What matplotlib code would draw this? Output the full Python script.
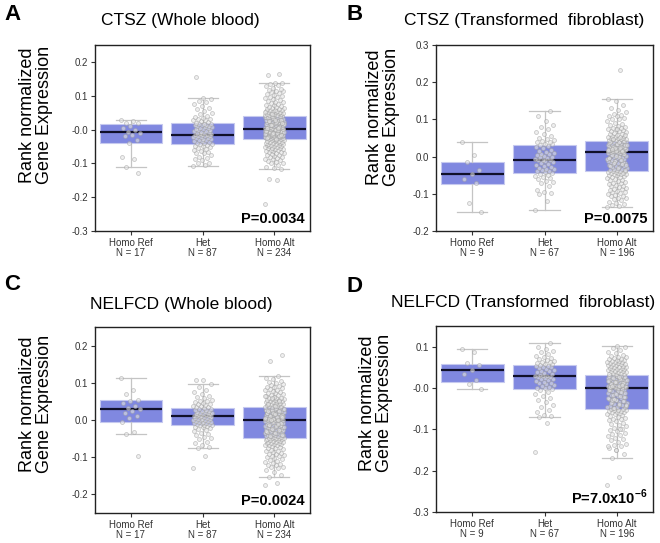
import numpy as np
import matplotlib.pyplot as plt

plt.rcParams['font.family'] = ['Liberation Sans', 'DejaVu Sans']
plt.rcParams['mathtext.fontset'] = 'custom'
plt.rcParams['mathtext.rm'] = 'Liberation Sans'
plt.rcParams['mathtext.bf'] = 'Liberation Sans:bold'

groups = ['Homo Ref', 'Het', 'Homo Alt']

# point values are in units of 0.001

# A - CTSZ whole blood
a_n = [17, 87, 234]
a_ref = [27, 25, 20, 18, 10, 5, -2, -7, -10, -15, -20, -30, -40, -82, -87, -112, -128]
a_het = [-107, -105, -100, -98, -90, -88, -85, -80, -75, -70, -68, -65, -62, -60, -58, -55, -52, -50, -48, -46, -44,
         -42, -40, -39, -37, -35, -34, -32, -30, -29, -27, -26, -24, -23, -21, -20, -19, -18, -17, -16, -15, -13, -12,
         -11, -10, -8, -7, -5, -4, -2, 0, 1, 3, 4, 6, 7, 9, 10, 11, 12, 13, 14, 15, 16, 17,
         20, 22, 25, 27, 28, 30, 32, 35, 38, 40, 45, 50, 55, 60, 65, 70, 75, 80, 85, 90, 94, 155]
a_alt = [-220, -148, -145, -117, -115, -110, -105, -100, -98, -95, -93, -90, -88, -86, -84, -82, -80, -78, -76, -74,
         -72, -70, -68, -67, -65, -64, -62, -61, -60, -58, -57, -56, -55, -54, -52, -51, -50, -49, -48, -47, -46, -45,
         -44, -43, -42, -41, -40, -39, -38, -37, -36, -35, -34, -33, -32, -31, -30, -29,
         -28, -27, -26, -26, -25, -24, -24, -23, -22, -21, -21, -20, -19, -18, -18, -17, -16, -15, -15, -14, -13, -12,
         -12, -11, -10, -9, -9, -8, -7, -6, -6, -5, -4, -3, -3, -2, -1, 0, 0, 1, -27, -23, -19, -16, -13, -10, -7, -4,
         -1, -25, -20, -14, -8, -2, 1, -17, -11, -5, 0,
         2, 3, 3, 4, 5, 6, 6, 7, 8, 9, 10, 10, 11, 12, 13, 14, 14, 15, 16, 17, 18, 18, 19, 20, 21, 22, 22, 23, 24, 25,
         26, 27, 28, 29, 30, 31, 32, 33, 34, 35, 36, 37, 38, 39, 39, 5, 9, 13, 17, 21, 25, 29, 33, 37, 4, 12, 20, 28, 36,
         40, 41, 42, 43, 44, 45, 46, 47, 48, 49, 50, 51, 52, 53, 54, 55, 56, 57, 58, 59, 60, 62, 63, 65, 66, 68, 70, 72,
         74, 75, 78, 80, 82, 85, 87, 90, 92, 95, 97, 100, 103, 105, 108, 110, 113, 115, 118, 120, 124, 128, 132, 136,
         138, 138, 160, 165, 45, 52]
a_med = [-0.007, -0.017, 0.002]
a_q1 = [-0.040, -0.043, -0.028]
a_q3 = [0.015, 0.018, 0.040]
a_lo = [-0.112, -0.107, -0.117]
a_hi = [0.027, 0.094, 0.138]

# B - CTSZ transformed fibroblast
b_n = [9, 67, 196]
b_ref = [40, 5, -15, -35, -48, -60, -72, -125, -148]
b_het = [-143, -120, -100, -97, -95, -90, -80, -72, -68, -65, -60, -57, -55, -52, -50, -47, -45,
         -42, -40, -38, -36, -34, -32, -30, -28, -25, -22, -20, -18, -15, -12, -10, -9, -8, -6, -4, -2, 0, 2, 4, 6, 8,
         10, 13, 16, 19, 22, 25, 28, 31,
         33, 35, 38, 40, 43, 45, 48, 50, 55, 60, 65, 75, 80, 84, 95, 110, 122]
b_alt = [-135, -132, -130, -128, -125, -122, -118, -115, -112, -110, -107, -105, -102, -100, -98, -96, -94, -92, -90,
         -88, -86, -84, -82, -80, -78, -76, -74, -72, -70, -68, -66, -64, -62, -60, -58, -56, -54, -52, -50, -49, -48,
         -47, -46, -45, -44, -43, -42, -41, -40,
         -39, -38, -36, -35, -33, -32, -30, -29, -27, -26, -24, -23, -21, -20, -18, -17, -15, -14, -12, -11, -9, -8,
         -6, -5, -3, -2, 0, 1, 3, 4, 6, 7, 9, 10, 11, -37, -31, -25, -19, -13, -7, -1, 5, 8, 2, -4, -10, -16, -22,
         12, 13, 13, 14, 15, 15, 16, 17, 17, 18, 19, 20, 20, 21, 22, 23, 23, 24, 25, 26, 27, 28, 28, 29, 30, 31, 32,
         33, 34, 35, 36, 37, 38, 39, 40, 41, 42, 14, 18, 22, 26, 30, 34, 38, 16, 24, 32, 40, 20,
         43, 44, 45, 46, 47, 48, 49, 50, 51, 52, 53, 54, 55, 56, 58, 60, 62, 64, 66, 68, 70, 72, 74, 75, 76, 78, 80, 82,
         85, 88, 90, 95, 100, 102, 105, 108, 110, 112, 115, 120, 125, 130, 140, 150, 156, 232, 47, 57, 73]
b_med = [-0.046, -0.008, 0.012]
b_q1 = [-0.073, -0.043, -0.040]
b_q3 = [-0.015, 0.032, 0.043]
b_lo = [-0.148, -0.143, -0.135]
b_hi = [0.040, 0.122, 0.156]

# C - NELFCD whole blood
c_n = [17, 87, 234]
c_ref = [112, 80, 70, 55, 50, 45, 38, 32, 30, 25, 20, 10, 5, -5, -33, -37, -97]
c_het = [-128, -97, -75, -72, -68, -62, -58, -52, -48, -45, -40, -37, -34, -30, -27, -25, -22, -20, -18, -16, -14,
         -13, -12, -11, -10, -9, -8, -7, -6, -5, -4, -3, -2, -1, 0, 1, 2, 3, 4, 5, 6, 7, 8, 9, 10, 10, 11, 12, 13, 14,
         15, 16, 17, 18, 19, 20, 21, 22, 23, 25, 26, 28, 29, 31, 32,
         34, 35, 37, 39, 40, 42, 44, 46, 48, 50, 52, 55, 58, 62, 65, 70, 75, 82, 90, 97, 107, 108]
c_alt = [-175, -170, -153, -148, -140, -135, -130, -127, -125, -122, -120, -117, -115, -112, -110, -108, -105, -103,
         -100, -98, -96, -94, -92, -90, -88, -86, -84, -82, -80, -78, -76, -74, -72, -70, -68, -67, -66, -65, -64, -63,
         -62, -61, -60, -59, -58, -57, -56, -55, -54, -53, -52, -51, -50, -49, -48, -48, -47, -47,
         -46, -45, -44, -43, -42, -41, -40, -39, -38, -37, -36, -35, -34, -33, -32, -31, -30, -29, -28, -27, -26, -25,
         -24, -23, -22, -21, -20, -19, -18, -17, -16, -15, -14, -13, -12, -11, -10, -9, -8, -7, -6, -5, -4, -3, -2, -1,
         -44, -40, -36, -32, -28, -24, -20, -16, -12, -8, -4, -30, -10,
         0, 0, 1, 1, 2, 3, 3, 4, 5, 6, 6, 7, 8, 9, 10, 10, 11, 12, 13, 14, 15, 16, 17, 18, 19, 20, 21, 22, 23, 24, 25,
         26, 27, 28, 29, 30, 31, 32, 33, 2, 5, 8, 11, 14, 17, 20, 23, 26, 29, 32, 4, 12, 20, 28, -1, 0, 7, 15, 24,
         34, 35, 36, 37, 38, 39, 40, 41, 42, 43, 44, 45, 46, 47, 48, 49, 50, 51, 52, 53, 54, 55, 56, 57, 58, 59, 60, 62,
         64, 66, 68, 70, 72, 74, 76, 78, 80, 82, 84, 86, 88, 90, 92, 95, 98, 100, 103, 106, 110, 114, 119, 160, 175,
         37, 44, 51, 58, 65]
c_med = [0.030, 0.010, -0.001]
c_q1 = [-0.004, -0.013, -0.047]
c_q3 = [0.055, 0.033, 0.034]
c_lo = [-0.037, -0.075, -0.153]
c_hi = [0.112, 0.097, 0.119]

# D - NELFCD transformed fibroblast
d_n = [9, 67, 196]
d_ref = [94, 88, 60, 55, 43, 35, 20, 10, -2]
d_het = [-155, -85, -70, -68, -65, -58, -52, -45, -40, -35, -30, -25, -20, -15, -10, -6, -3,
         -1, 1, 3, 5, 7, 9, 11, 13, 15, 17, 19, 21, 23, 25, 26, 27, 28, 29, 30, 32, 34, 36, 38, 40, 42, 44, 46, 48,
         50, 52, 53, 54, 55,
         57, 58, 60, 62, 64, 66, 68, 70, 72, 75, 78, 82, 86, 90, 94, 100, 108]
d_alt = [-235, -215, -170, -160, -150, -145, -140, -138, -135, -130, -127, -124, -120, -117, -114, -111, -108, -105,
         -102, -99, -96, -93, -90, -87, -84, -81, -78, -76, -74, -72, -70, -68, -66, -64, -62, -60, -59, -58, -57, -56,
         -55, -54, -53, -52, -51, -50, -150, -140, -100,
         -49, -47, -45, -43, -41, -39, -37, -35, -33, -31, -29, -27, -25, -23, -21, -19, -17, -15, -13, -11, -9, -7,
         -5, -3, -1, 0, -48, -44, -40, -36, -32, -28, -24, -20, -16, -12, -8, -4, -2, 0, -46, -38, -30, -22, -14, -6,
         -10, -26, -42,
         1, 2, 2, 3, 4, 5, 5, 6, 7, 8, 9, 10, 11, 12, 13, 14, 15, 16, 17, 18, 19, 20, 21, 22, 23, 24, 25, 26, 27, 28,
         29, 30, 31, 3, 6, 9, 12, 15, 18, 21, 24, 27, 30, 2, 8, 14, 20, 26, 5,
         33, 34, 35, 36, 37, 38, 39, 40, 41, 42, 43, 44, 45, 46, 47, 48, 49, 50, 51, 52, 53, 54, 55, 56, 57, 58, 59, 60,
         61, 62, 63, 64, 65, 66, 67, 68, 69, 70, 72, 74, 76, 78, 80, 84, 88, 92, 96, 100, 102]
d_med = [0.043, 0.028, 0.001]
d_q1 = [0.015, -0.002, -0.050]
d_q3 = [0.057, 0.056, 0.032]
d_lo = [-0.002, -0.070, -0.170]
d_hi = [0.094, 0.108, 0.102]


def panel(ax, pts, med, q1, q3, lo, hi, ns, ylim, yticks, ylabels, pval):
    stats = []
    for i in range(3):
        stats.append(dict(med=med[i], q1=q1[i], q3=q3[i], whislo=lo[i], whishi=hi[i], fliers=[]))
    ax.bxp(stats, positions=[0, 1, 2], widths=0.87, capwidths=0.42, patch_artist=True, showfliers=False,
           boxprops=dict(facecolor='#8088e0', edgecolor='#c6c9ef', linewidth=0.8),
           medianprops=dict(color='#10102a', linewidth=1.6),
           whiskerprops=dict(color='#c4c4c4', linewidth=0.9),
           capprops=dict(color='#c4c4c4', linewidth=0.9))
    for i, vals in enumerate(pts):
        y = np.array(vals) / 1000.0
        k = np.arange(len(y))
        x = i + ((k * 0.618034) % 1 - 0.5) * 0.27
        ax.scatter(x, y, s=8, facecolor='#e4e4e4', edgecolor='#a0a0a0', linewidth=0.55, alpha=0.6, zorder=3)
    ax.set_xlim(-0.5, 2.5)
    ax.set_ylim(ylim)
    ax.set_yticks(yticks)
    ax.set_yticklabels(ylabels)
    ax.set_xticks([0, 1, 2])
    ax.set_xticklabels([g + '\nN = ' + str(n) for g, n in zip(groups, ns)], linespacing=1.0)
    ax.tick_params(labelsize=7, length=3, width=0.8, colors='#333333', pad=2)
    for s in ax.spines.values():
        s.set_linewidth(1.0)
        s.set_color('#222222')
    ax.text(0.975, 0.025, pval, transform=ax.transAxes, ha='right', va='bottom', fontsize=10.5,
            fontweight='bold')


fig = plt.figure(figsize=(6.6, 5.43), dpi=100)
axA = fig.add_axes([0.144, 0.5746, 0.326, 0.3425])
axB = fig.add_axes([0.6606, 0.5746, 0.329, 0.3425])
axC = fig.add_axes([0.144, 0.0552, 0.326, 0.3425])
axD = fig.add_axes([0.6606, 0.0571, 0.329, 0.3425])

panel(axA, [a_ref, a_het, a_alt], a_med, a_q1, a_q3, a_lo, a_hi, a_n, (-0.3, 0.25),
      [-0.3, -0.2, -0.1, 0.0, 0.1, 0.2], ['-0.3', '-0.2', '-0.1', '-0.0', '0.1', '0.2'], 'P=0.0034')
panel(axB, [b_ref, b_het, b_alt], b_med, b_q1, b_q3, b_lo, b_hi, b_n, (-0.2, 0.3),
      [-0.2, -0.1, 0.0, 0.1, 0.2, 0.3], ['-0.2', '-0.1', '0.0', '0.1', '0.2', '0.3'], 'P=0.0075')
panel(axC, [c_ref, c_het, c_alt], c_med, c_q1, c_q3, c_lo, c_hi, c_n, (-0.25, 0.25),
      [-0.2, -0.1, 0.0, 0.1, 0.2], ['-0.2', '-0.1', '0.0', '0.1', '0.2'], 'P=0.0024')
panel(axD, [d_ref, d_het, d_alt], d_med, d_q1, d_q3, d_lo, d_hi, d_n, (-0.3, 0.15),
      [-0.3, -0.2, -0.1, 0.0, 0.1], ['-0.3', '-0.2', '-0.1', '-0.0', '0.1'], r'P=7.0x10$^{\mathbf{-6}}$')

W, H = 660.0, 543.0
# titles
fig.text(180 / W, 1 - 21 / H, 'CTSZ (Whole blood)', ha='center', va='center', fontsize=12.5)
fig.text(524 / W, 1 - 21 / H, 'CTSZ (Transformed  fibroblast)', ha='center', va='center', fontsize=12.5)
fig.text(181 / W, 1 - 305 / H, 'NELFCD (Whole blood)', ha='center', va='center', fontsize=12.5)
fig.text(523 / W, 1 - 303 / H, 'NELFCD (Transformed  fibroblast)', ha='center', va='center', fontsize=12.5)
# panel letters
for lab, x, y in [('A', 13, 15), ('B', 355, 15), ('C', 12, 285), ('D', 355, 287)]:
    fig.text(x / W, 1 - y / H, lab, ha='center', va='center', fontsize=16, fontweight='bold')
# y labels
for x, y in [(36, 115), (383, 117), (36, 404), (376, 403)]:
    fig.text(x / W, 1 - y / H, 'Rank normalized\nGene Expression', rotation=90, ha='center', va='center',
             fontsize=13, linespacing=1.05, multialignment='center')

fig.savefig('out.png', dpi=100)
